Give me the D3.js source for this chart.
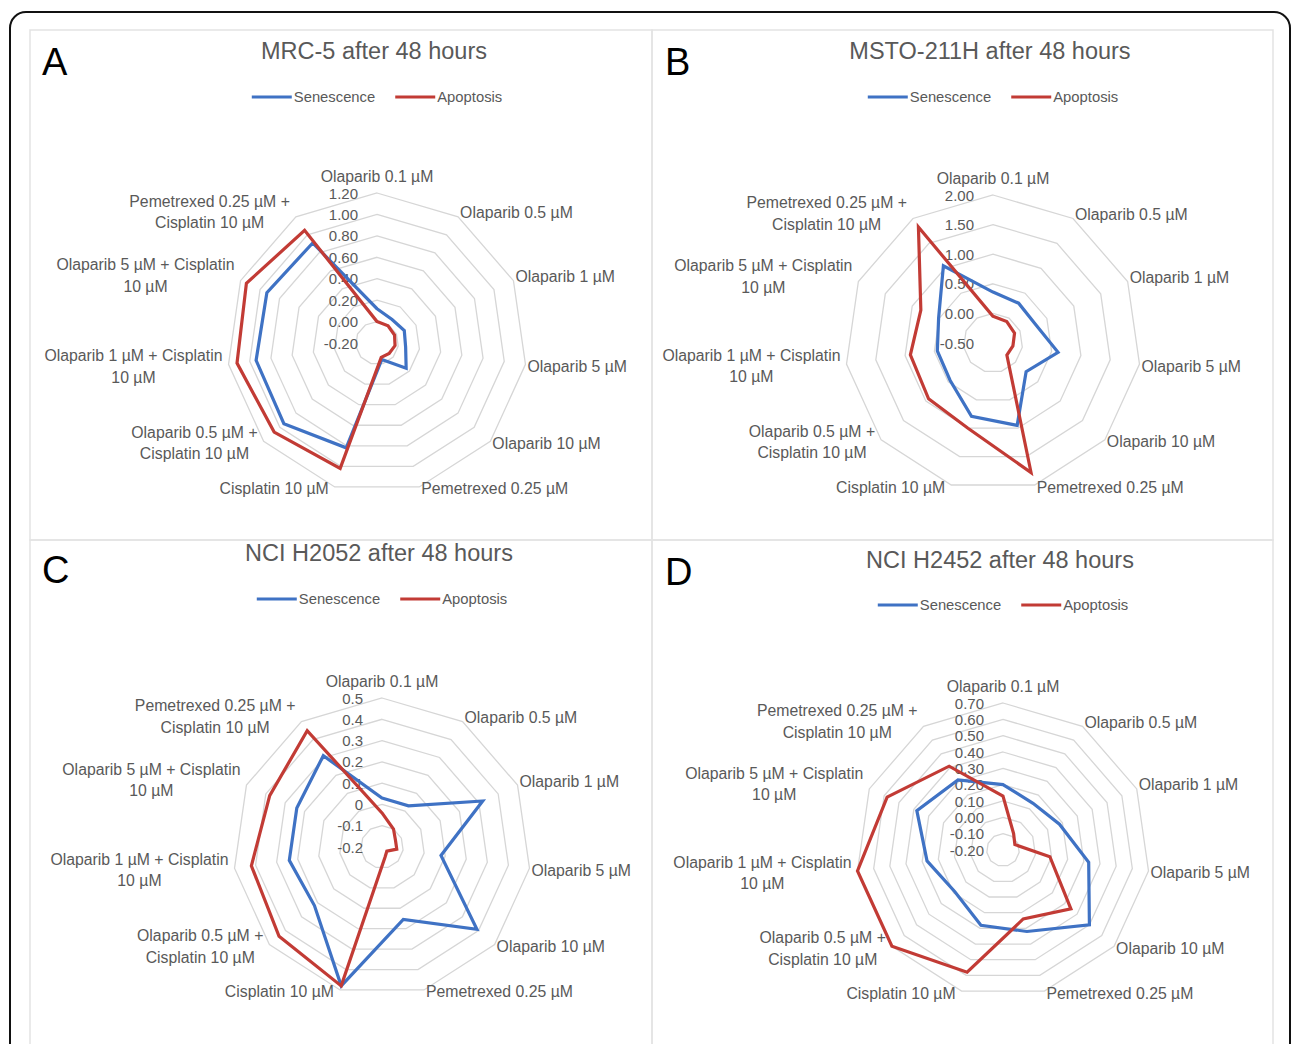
<!DOCTYPE html>
<html><head><meta charset="utf-8">
<script src="https://cdn.jsdelivr.net/npm/d3@7"></script>
<style>
html,body{margin:0;padding:0;background:#fff;}
svg{display:block;font-family:"Liberation Sans",Arial,sans-serif;}
</style></head>
<body>
<svg id="chart" width="1292" height="1044"></svg>
<script>
// ---------- data ----------
const categories = [
  "Olaparib 0.1 µM", "Olaparib 0.5 µM", "Olaparib 1 µM", "Olaparib 5 µM", "Olaparib 10 µM",
  "Pemetrexed 0.25 µM", "Cisplatin 10 µM", "Olaparib 0.5 µM +\nCisplatin 10 µM",
  "Olaparib 1 µM + Cisplatin\n10 µM", "Olaparib 5 µM + Cisplatin\n10 µM",
  "Pemetrexed 0.25 µM +\nCisplatin 10 µM"
];
const seriesNames = ["Senescence", "Apoptosis"];
const panelLetters = ["A", "B", "C", "D"];
const panelTitles = ["MRC-5 after 48 hours", "MSTO-211H after 48 hours", "NCI H2052 after 48 hours", "NCI H2452  after 48 hours"];

const ticksA = [-0.2, 0, 0.2, 0.4, 0.6, 0.8, 1.0, 1.2];
const ticksB = [-0.5, 0, 0.5, 1.0, 1.5, 2.0];
const ticksC = [-0.2, -0.1, 0, 0.1, 0.2, 0.3, 0.4, 0.5];
const ticksD = [-0.2, -0.1, 0, 0.1, 0.2, 0.3, 0.4, 0.5, 0.6, 0.7];
const tickFormats = [".2f", ".2f", "", ".2f"];

const senescenceA = [0.12, 0.06, 0.08, 0.07, 0.16, -0.04, 0.82, 0.95, 0.94, 0.93, 0.91];
const apoptosisA  = [0.00, -0.01, -0.02, -0.03, -0.05, -0.06, 1.02, 1.07, 1.12, 1.14, 1.05];
const senescenceB = [0.36, 0.30, 0.28, 0.61, 0.24, 0.95, 0.79, 0.46, 0.45, 0.51, 1.05];
const apoptosisB  = [-0.05, -0.07, -0.10, -0.16, -0.19, 1.78, 1.00, 0.94, 0.91, 0.84, 1.83];
const senescenceC = [0.03, 0.03, 0.32, 0.08, 0.39, 0.155, 0.48, 0.22, 0.24, 0.24, 0.31];
const apoptosisC  = [-0.04, -0.10, -0.13, -0.13, -0.17, -0.15, 0.48, 0.44, 0.42, 0.38, 0.45];
const senescenceD = [0.20, 0.14, 0.18, 0.33, 0.50, 0.32, 0.28, 0.19, 0.27, 0.38, 0.31];
const apoptosisD  = [0.13, -0.08, -0.12, 0.09, 0.35, 0.24, 0.58, 0.70, 0.70, 0.58, 0.41];

// ---------- layout ----------
const colors = ["#3f72c4", "#c23b35"];
const gray = "#595959";
const panels = [
  {ticks: ticksA, data: [senescenceA, apoptosisA], cx: 377, cy: 343, R: 150, box: [30, 30, 652, 540], titleY: 51, legendY: 97, letter: [42, 62]},
  {ticks: ticksB, data: [senescenceB, apoptosisB], cx: 993, cy: 343, R: 148, box: [652, 30, 1273, 540], titleY: 51, legendY: 97, letter: [665, 62]},
  {ticks: ticksC, data: [senescenceC, apoptosisC], cx: 382, cy: 847, R: 149, box: [30, 540, 652, 1060], titleY: 553, legendY: 599, letter: [42, 570]},
  {ticks: ticksD, data: [senescenceD, apoptosisD], cx: 1003, cy: 850, R: 147, box: [652, 540, 1273, 1060], titleY: 560, legendY: 605, letter: [665, 572]}
];

const svg = d3.select("#chart");

// outer frame
svg.append("rect").attr("x", 10).attr("y", 12).attr("width", 1280).attr("height", 1080)
  .attr("rx", 16).attr("fill", "#fff").attr("stroke", "#111").attr("stroke-width", 2);

const n = categories.length;
const angle = d3.scaleLinear().domain([0, n]).range([0, 2 * Math.PI]);

panels.forEach((p, pi) => {
  const g = svg.append("g");
  const [x0, y0, x1, y1] = p.box;
  g.append("rect").attr("x", x0).attr("y", y0).attr("width", x1 - x0).attr("height", y1 - y0)
    .attr("fill", "none").attr("stroke", "#e3e3e3").attr("stroke-width", 1.5);

  const r = d3.scaleLinear().domain([p.ticks[0], p.ticks[p.ticks.length - 1]]).range([0, p.R]);
  const pt = (i, v) => [p.cx + r(v) * Math.sin(angle(i)), p.cy - r(v) * Math.cos(angle(i))];

  // grid rings
  p.ticks.slice(1).forEach(t => {
    const ring = d3.range(n).map(i => pt(i, t));
    g.append("path").attr("d", d3.line().curve(d3.curveLinearClosed)(ring))
      .attr("fill", "none").attr("stroke", "#d6d6d6").attr("stroke-width", 1.3);
  });

  // tick labels
  const fmt = tickFormats[pi] ? d3.format(tickFormats[pi]) : (v => String(+v.toFixed(1)));
  p.ticks.forEach(t => {
    g.append("text").attr("x", p.cx - 19).attr("y", p.cy - r(t))
      .attr("text-anchor", "end").attr("dominant-baseline", "central")
      .attr("font-size", 15).attr("fill", gray).text(fmt(t).replace("\u2212", "-"));
  });

  // category labels
  categories.forEach((c, i) => {
    const a = angle(i), s = Math.sin(a), co = Math.cos(a);
    const [vx, vy] = pt(i, p.ticks[p.ticks.length - 1]);
    const lines = c.split("\n");
    const lh = 21.5;
    let ax, cyL, anchor;
    if (i === 0) { ax = vx; cyL = vy - 17; anchor = "middle"; }
    else if (s > 0) { ax = vx + 2; cyL = vy + (co > 0 ? -4 : 2); anchor = "start"; }
    else { ax = vx - 6; cyL = vy + (co > 0 ? -5 : 2); anchor = "end"; }
    const t = g.append("text").attr("font-size", 15.8).attr("fill", gray);
    const tsp = lines.map((ln, k) => t.append("tspan").attr("dominant-baseline", "central")
      .attr("y", cyL + (k - (lines.length - 1) / 2) * lh).text(ln));
    const widths = tsp.map(ts => ts.node().getComputedTextLength());
    const W = d3.max(widths);
    const left = anchor === "start" ? ax : anchor === "end" ? ax - W : ax - W / 2;
    tsp.forEach(ts => ts.attr("x", left + W / 2).attr("text-anchor", "middle"));
  });

  // series
  p.data.forEach((vals, si) => {
    const pts = vals.map((v, i) => pt(i, v));
    g.append("path").attr("d", d3.line().curve(d3.curveLinearClosed)(pts))
      .attr("fill", "none").attr("stroke", colors[si]).attr("stroke-width", 3.2)
      .attr("stroke-linejoin", "miter");
  });

  // title
  g.append("text").attr("x", p.cx - 3).attr("y", p.titleY).attr("text-anchor", "middle")
    .attr("dominant-baseline", "central").attr("font-size", 23.5).attr("fill", gray).text(panelTitles[pi]);

  // legend
  const lg = g.append("g");
  let xx = 0;
  seriesNames.forEach((sn, si) => {
    lg.append("line").attr("x1", xx).attr("x2", xx + 40).attr("y1", 0).attr("y2", 0)
      .attr("stroke", colors[si]).attr("stroke-width", 3.2);
    const tx = lg.append("text").attr("x", xx + 42).attr("y", 0).attr("dominant-baseline", "central")
      .attr("font-size", 14.8).attr("fill", gray).text(sn);
    xx += 42 + tx.node().getComputedTextLength() + 20;
  });
  const lw = xx - 20;
  lg.attr("transform", `translate(${p.cx - lw / 2},${p.legendY})`);

  // letter
  g.append("text").attr("x", p.letter[0]).attr("y", p.letter[1]).attr("dominant-baseline", "central")
    .attr("font-size", 38).attr("fill", "#000").text(panelLetters[pi]);
});
</script>
</body></html>
